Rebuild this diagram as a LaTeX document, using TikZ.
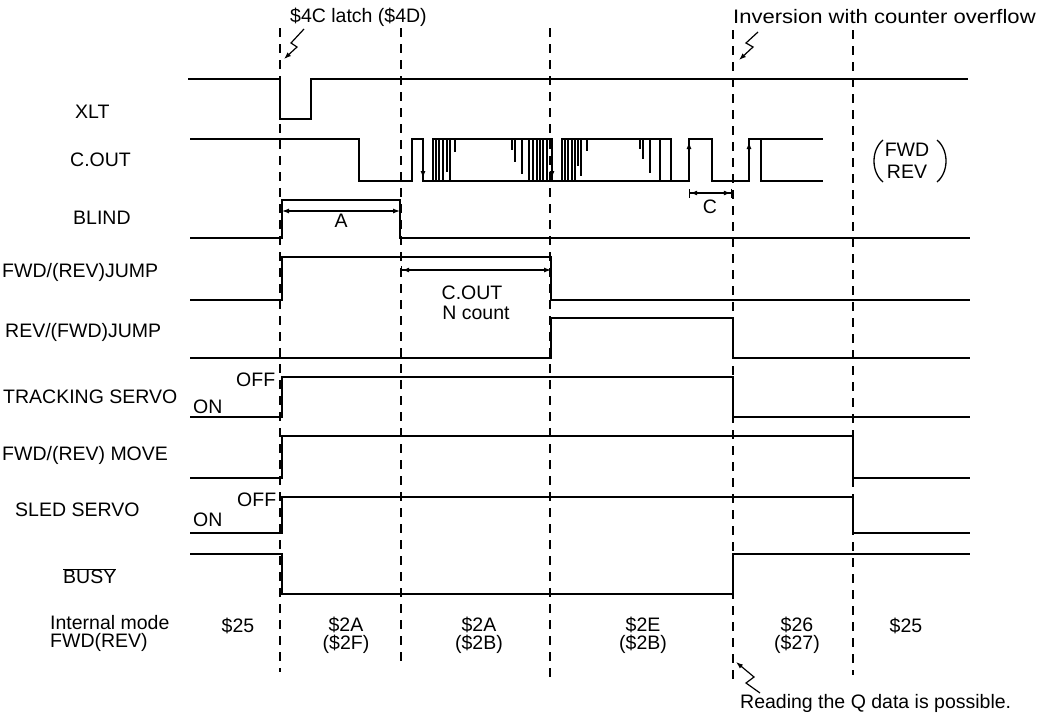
\documentclass[tikz,border=0pt]{standalone}
\usepackage{fontspec}
\setmainfont{Liberation Sans}
\newfontfamily\widefont[FakeStretch=1.13]{Liberation Sans}
\usetikzlibrary{arrows.meta}
\begin{document}
\begin{tikzpicture}[x=1pt, y=-1pt]
    \tikzstyle{every node}=[font=\fontsize{19.5}{21}\selectfont, inner sep=0pt]
    \tikzset{
        sig/.style={line width=1.9pt},
        tick/.style={line width=1.3pt},
        grid/.style={line width=1.3pt, dash pattern=on 9pt off 7pt},
        dim/.style={line width=1.2pt, {Latex[length=7pt,width=5pt]}-{Latex[length=7pt,width=5pt]}},
        dimbar/.style={line width=1.2pt, {Bar[width=9pt]Latex[length=7pt,width=5pt]}-{Latex[length=7pt,width=5pt]}},
        dimbars/.style={line width=1.2pt, {Bar[width=9pt]Latex[length=7pt,width=5pt]}-{Latex[length=7pt,width=5pt]Bar[width=9pt]}},
        edge/.style={line width=1.2pt, -{Latex[length=7pt,width=5pt]}},
        lbl/.style={anchor=west},
        modes/.style={align=center, font=\fontsize{19.5}{18}\selectfont}
        }
    \useasboundingbox (0,0) rectangle (1055,721);

    %timing grid
    \draw[grid] (280,28) -- (280,672);
    \draw[grid] (401,28) -- (401,668);
    \draw[grid] (550,28) -- (550,682);
    \draw[grid] (733,30) -- (733,682);
    \draw[grid] (853,30) -- (853,675);

    %top notes
    \node (latch) [lbl] at (290,17) {\$4C latch (\$4D)};
    \node (inversion) [lbl] at (733,17) {\widefont Inversion with counter overflow};
    \coordinate (latchbolt) at (304,29);
    \coordinate (latchhit) at (284,59);
    \draw[edge] (latchbolt) -- (291,43) -- (297,47) -- (latchhit);
    \coordinate (invbolt) at (758,32);
    \coordinate (invhit) at (739,60);
    \draw[edge] (invbolt) -- (746,43) -- (753,47) -- (invhit);

    %signal names
    \node (xlt) [lbl] at (75,112) {XLT};
    \node (cout) [lbl] at (70,160) {C.OUT};
    \node (blind) [lbl] at (73,218) {BLIND};
    \node (fwdjump) [lbl] at (2,272) {FWD/(REV)JUMP};
    \node (revjump) [lbl] at (5,332) {REV/(FWD)JUMP};
    \node (tracking) [lbl] at (3,397) {TRACKING SERVO};
    \node (move) [lbl] at (2,455) {FWD/(REV) MOVE};
    \node (sled) [lbl] at (15,510) {SLED SERVO};
    \node (busy) [lbl] at (63,576) {$\overline{\hbox{BUSY}}$};
    \node (troff) [lbl] at (236,380) {OFF};
    \node (tron) [lbl] at (193,407) {ON};
    \node (sloff) [lbl] at (237,500) {OFF};
    \node (slon) [lbl] at (193,520) {ON};

    %XLT
    \draw[sig] (188,79) -- (280,79) -- (280,119) -- (311,119) -- (311,79) -- (968,79);

    %C.OUT
    \draw[sig] (190,139) -- (359,139) -- (359,181) -- (412,181) -- (412,139) -- (423,139)
        -- (423,181) -- (433,181) -- (433,139) -- (552,139) -- (552,181) -- (562,181)
        -- (562,139) -- (671,139) -- (671,181) -- (689,181) -- (689,139) -- (712,139)
        -- (712,181) -- (749,181) -- (749,139) -- (761,139) -- (761,181) -- (823,181);
    \draw[sig] (433,181) -- (552,181) (562,181) -- (671,181) (761,139) -- (823,139);
    \draw[tick] (436,139) -- (436,181) (439,139) -- (439,181) (443,139) -- (443,181)
        (447,139) -- (447,172) (450,139) -- (450,181) (455,139) -- (455,152)
        (512,139) -- (512,150) (515,139) -- (515,162) (522,139) -- (522,174)
        (529,139) -- (529,181) (533,139) -- (533,181) (537,139) -- (537,181)
        (540,139) -- (540,181) (543,139) -- (543,181) (547,139) -- (547,181);
    \draw[tick] (565,139) -- (565,181) (568,139) -- (568,181) (572,139) -- (572,181)
        (575,139) -- (575,181) (578,139) -- (578,166) (581,139) -- (581,176)
        (587,139) -- (587,151) (640,139) -- (640,149) (643,139) -- (643,159)
        (650,139) -- (650,173) (660,139) -- (660,181);
    \draw[edge] (423,150) -- (423,178);
    \draw[edge] (552,150) -- (552,178);
    \draw[edge] (689,170) -- (689,142);
    \draw[edge] (749,170) -- (749,142);
    % direction note
    \node (dir) [modes, font=\fontsize{19.5}{22}\selectfont] at (907,161) {FWD\\REV};
    \draw[tick] (883,140) .. controls (871,150) and (871,172) .. (883,182);
    \draw[tick] (937,140) .. controls (949,150) and (949,172) .. (937,182);
    \coordinate (cstart) at (689,193);
    \coordinate (cend) at (732,193);
    \draw[dimbars] (cstart) -- (cend);
    \node (clbl) at (710,207) {C};

    %BLIND
    \draw[sig] (190,238) -- (282,238) -- (282,200) -- (400,200) -- (400,238) -- (970,238);
    \coordinate (astart) at (282,211);
    \coordinate (aend) at (400,211);
    \draw[dim] (astart) -- (aend);
    \node (albl) at (341,221) {A};

    %FWD/(REV) JUMP
    \draw[sig] (190,300) -- (282,300) -- (282,257) -- (551,257) -- (551,300) -- (970,300);
    \coordinate (nstart) at (401,270);
    \coordinate (nend) at (551,270);
    \draw[dimbar] (nstart) -- (nend);
    \node (ncout) [modes, font=\fontsize{19.5}{20}\selectfont] at (472,303) {C.OUT\\\hspace*{8pt}N count};

    %REV/(FWD) JUMP
    \draw[sig] (190,358) -- (551,358) -- (551,318) -- (733,318) -- (733,358) -- (970,358);

    %TRACKING SERVO
    \draw[sig] (190,417) -- (282,417) -- (282,377) -- (733,377) -- (733,417) -- (970,417);

    %FWD/(REV) MOVE
    \draw[sig] (190,478) -- (282,478) -- (282,436) -- (853,436) -- (853,478) -- (970,478);

    %SLED SERVO
    \draw[sig] (190,533) -- (282,533) -- (282,497) -- (853,497) -- (853,533) -- (970,533);

    %BUSY
    \draw[sig] (190,554) -- (282,554) -- (282,594) -- (733,594) -- (733,554) -- (970,554);

    %internal mode
    \node (mode) [lbl, align=left, font=\fontsize{19.5}{18}\selectfont] at (50,633) {Internal mode\\FWD(REV)};
    \node (m1) at (238,626) {\$25};
    \node (m2) [modes] at (346,635) {\$2A\\(\$2F)};
    \node (m3) [modes] at (479,635) {\$2A\\(\$2B)};
    \node (m4) [modes] at (643,635) {\$2E\\(\$2B)};
    \node (m5) [modes] at (797,635) {\$26\\(\$27)};
    \node (m6) at (906,626) {\$25};

    %Q data
    \node (qdata) [lbl] at (740,703) {Reading the Q data is possible.};
    \coordinate (qbolt) at (760,693);
    \coordinate (qhit) at (736,662);
    \draw[edge] (qbolt) -- (746,683) -- (754,677) -- (qhit);
\end{tikzpicture}
\end{document}
